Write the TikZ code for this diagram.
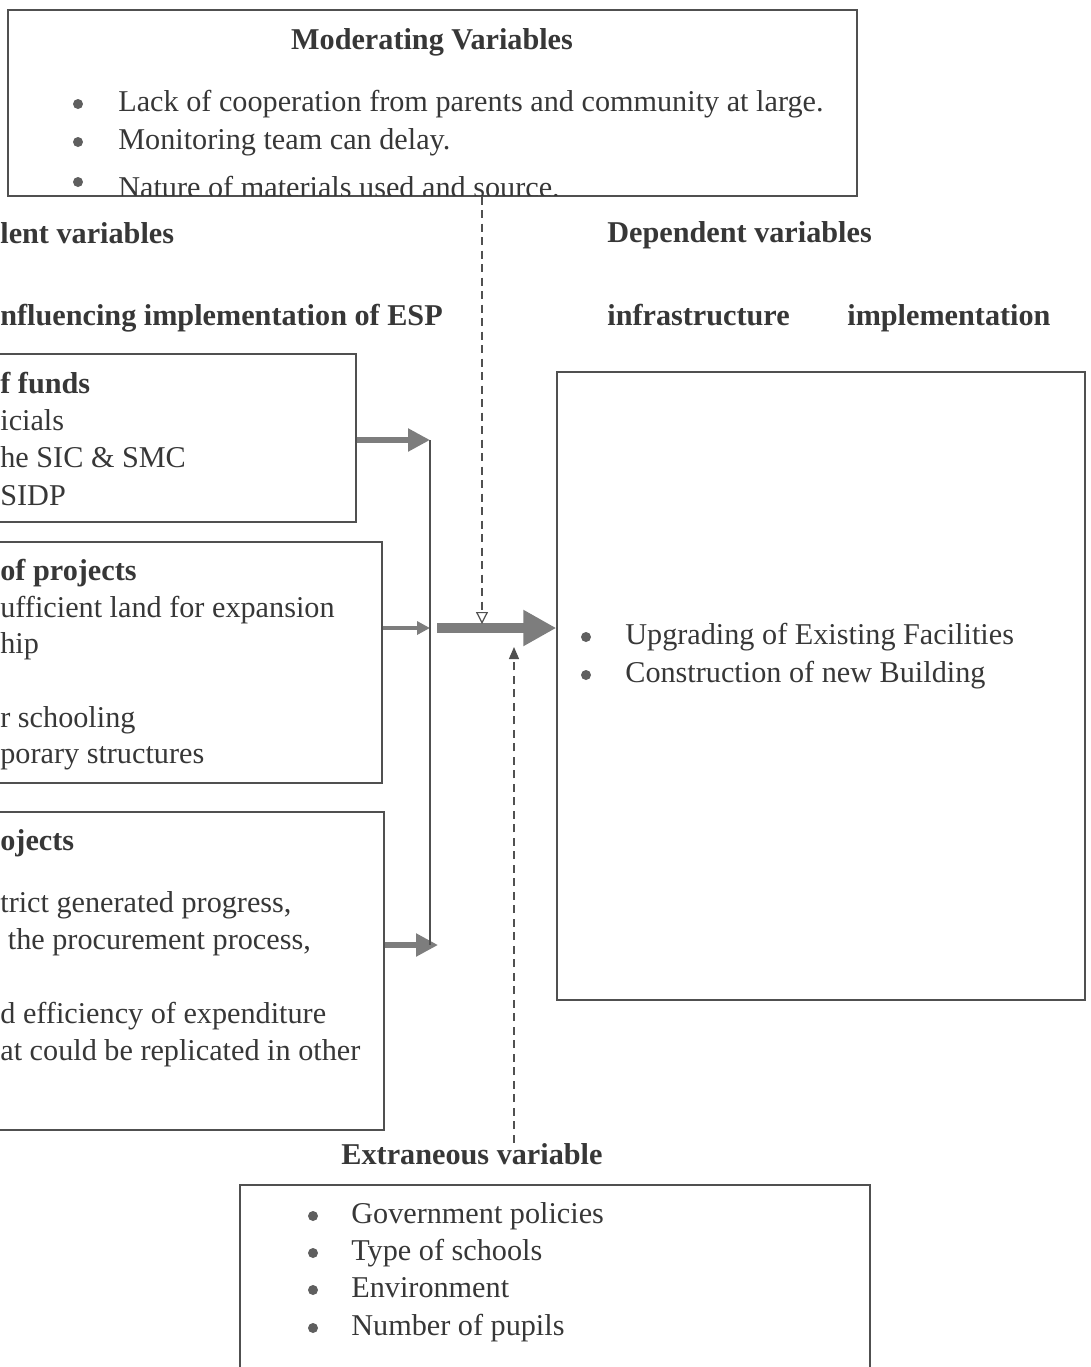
\documentclass[tikz,border=0pt]{standalone}
\usepackage{fontspec}
\setmainfont{Liberation Serif}
\usepackage{tikz}
\usetikzlibrary{arrows.meta, positioning, fit}
\definecolor{inkcolor}{RGB}{55,55,55}
\definecolor{linecolor}{RGB}{80,80,80}
\definecolor{arrowcolor}{RGB}{125,125,125}
\definecolor{bulletcolor}{RGB}{95,95,95}

\begin{document}
\begin{tikzpicture}[
    x=0.02cm, y=-0.02cm,
    box/.style={rectangle, draw=linecolor, line width=0.8pt, inner sep=0pt},
    line/.style={anchor=base west, inner sep=0pt, text=inkcolor, font=\fontsize{17.2}{21.9}\selectfont},
    heading/.style={line, font=\fontsize{17.2}{21.9}\selectfont\bfseries},
    dot/.style={fill=bulletcolor},
    fat/.style={-{Triangle[length=0.44cm, width=0.44cm]}, line width=3pt, draw=arrowcolor},
    thin/.style={-{Triangle[length=0.26cm, width=0.26cm]}, line width=2.2pt, draw=arrowcolor},
    big/.style={-{Triangle[length=0.66cm, width=0.68cm]}, line width=5.5pt, draw=arrowcolor},
    dashline/.style={draw=linecolor, line width=0.7pt, dash pattern=on 0.16cm off 0.11cm}
]
    \useasboundingbox (0,0) rectangle (1090,1367);
    \clip (0,0) rectangle (1090,1367);

    % Moderating variables
    \node[box, fit={(8,10) (857,196)}] (mod) {};
    \node[heading, anchor=base] (modtitle) at (432,49) {Moderating Variables};
    \node[line] (mod1) at (118,111) {Lack of cooperation from parents and community at large.};
    \node[line] (mod2) at (118,149) {Monitoring team can delay.};
    \begin{scope}
        \clip (8,10) rectangle (857,195);
        \node[line] (mod3) at (118,197) {Nature of materials used and source.};
    \end{scope}
    \foreach \y in {104,142,182}
        \fill[dot] (78,\y) circle (0.1cm);

    % Headings
    \node[heading] (indep) at (0,243) {lent variables};
    \node[heading] (factors) at (0,325) {nfluencing implementation of ESP};
    \node[heading] (dep) at (607,242) {Dependent variables};
    \node[heading] (infra) at (607,325) {infrastructure};
    \node[heading] (impl) at (847,325) {implementation};

    % Independent boxes
    \node[box, fit={(-20,354) (356,522)}] (funds) {};
    \node[heading] (funds0) at (0,393) {f funds};
    \foreach \i/\y/\t in {1/430/icials, 2/467/he SIC \& SMC, 3/505/SIDP}
        \node[line] (funds\i) at (0,\y) {\t};

    \node[box, fit={(-20,542) (382,783)}] (proj) {};
    \node[heading] (proj0) at (0,580) {of projects};
    \foreach \i/\y/\t in {1/617/ufficient land for expansion, 2/653/hip, 3/727/r schooling, 4/763/porary structures}
        \node[line] (proj\i) at (0,\y) {\t};

    \node[box, fit={(-20,812) (384,1130)}] (exec) {};
    \node[heading] (exec0) at (0,850) {ojects};
    \foreach \i/\y/\t in {1/912/{trict generated progress,}, 2/949/{\ the procurement process,}, 3/1023/d efficiency of expenditure, 4/1060/at could be replicated in other}
        \node[line] (exec\i) at (0,\y) {\t};

    % Dependent box
    \node[box, fit={(557,372) (1085,1000)}] (out) {};
    \node[line] (out1) at (625,644) {Upgrading of Existing Facilities};
    \node[line] (out2) at (625,682) {Construction of new Building};
    \foreach \y in {644,682}
        \fill[dot] (586,\y-7) circle (0.1cm);

    % Extraneous variable
    \node[heading, anchor=base] (exttitle) at (472,1164) {Extraneous variable};
    \node[box, fit={(240,1185) (870,1400)}] (ext) {};
    \foreach \i/\y/\t in {1/1223/Government policies, 2/1260/Type of schools, 3/1297/Environment, 4/1335/Number of pupils}{
        \node[line] (ext\i) at (351,\y) {\t};
        \fill[dot] (313,\y-7) circle (0.1cm);
    }

    % Connectors
    \coordinate (j1) at (430,440);
    \coordinate (j2) at (430,628);
    \coordinate (j3) at (438,945);
    \coordinate (hit) at (482,624);
    \coordinate (lift) at (514,647);
    \draw[fat] (funds.east |- j1) -- (j1);
    \draw[thin] (proj.east |- j2) -- (j2);
    \draw[fat] (exec.east |- j3) -- (j3);
    \draw[linecolor, line width=0.9pt] (j1) -- (j1 |- j3);
    \draw[big] ([xshift=0.14cm]j2) -- (out.west |- j2);
    \draw[dashline, -{Triangle[open, length=0.24cm, width=0.24cm]}] (mod.south -| hit) -- (hit);
    \draw[dashline, -{Triangle[length=0.24cm, width=0.2cm]}] (exttitle.north -| lift) -- (lift);
\end{tikzpicture}
\end{document}
